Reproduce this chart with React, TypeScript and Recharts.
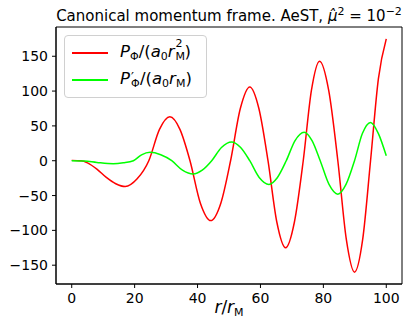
import React from "react";
import { LineChart, Line, XAxis, YAxis, Legend, ReferenceArea } from "recharts";

// P_Phi / (a0 rM^2)  (red)
const pPhiR = [0, 3, 5, 8, 11, 14, 17, 20.8, 24.5, 27.9, 31.2, 34.4, 37.6, 40.9, 44.2, 47.4, 50.5, 53.6, 56.6, 59.5, 62.4, 65.2, 68, 70.8, 73.6, 76.2, 78.8, 81.7, 84.6, 87.3, 89.9, 92.5, 95, 97.5, 100];
const pPhiVal = [0.5, 0, -3, -12, -24, -33, -37, -26, 0, 45, 63, 45, 0, -61, -86, -61, 0, 75, 106, 75, 0, -88, -125, -88, 0, 101, 143, 101, 0, -113, -160, -113, 0, 118, 175];

// P'_Phi / (a0 rM)  (green)
const dPhiR = [0, 4, 8, 13.2, 16.4, 19.6, 22.2, 24.9, 28.3, 31.8, 35.2, 38.6, 41.5, 44.5, 47.6, 50.8, 53.7, 56.6, 59.6, 62.7, 65.4, 68.2, 71, 73.9, 76.4, 79, 81.8, 84.6, 87.2, 89.9, 92.4, 95, 97.5, 100];
const dPhiVal = [0, -0.5, -2.5, -4.3, -3, 0, 8.5, 12, 8.5, 0, -13.5, -19, -13.5, 0, 19, 27, 19, 0, -24, -34, -24, 0, 29, 41, 29, 0, -34, -48, -34, 0, 39, 55, 39, 7];

const xTicks = [0, 20, 40, 60, 80, 100];
const yTicks = [-150, -100, -50, 0, 50, 100, 150];
const xDomain = [-5, 105];
const yDomain = [-177, 192];

const redData = pPhiR.map((r, i) => ({ r, v: pPhiVal[i] }));
const greenData = dPhiR.map((r, i) => ({ r, v: dPhiVal[i] }));

const font = "DejaVu Sans";
const fmt = (v: number) => (v < 0 ? "\u2212" + Math.abs(v) : String(v));

// superscript and subscript stacked on one base letter
const Stack = ({ sup, sub, supSize = 11, supTop = -7 }: { sup: string; sub: string; supSize?: number; supTop?: number }) => (
  <span style={{ display: "inline-block", width: 10, position: "relative", height: 12, verticalAlign: "baseline" }}>
    <span style={{ position: "absolute", left: 1, top: supTop, fontSize: supSize, lineHeight: "11px", fontStyle: "normal" }}>{sup}</span>
    <span style={{ position: "absolute", left: 1, top: 6, fontSize: 11, lineHeight: "11px", fontStyle: "normal" }}>{sub}</span>
  </span>
);

const Sub = ({ children }: { children: React.ReactNode }) => (
  <span style={{ fontSize: 11, fontStyle: "normal", position: "relative", top: 3 }}>{children}</span>
);

const LegendBox = () => (
  <div
    style={{
      width: 141,
      height: 61,
      border: "1px solid #d0d0d0",
      borderRadius: 4,
      background: "rgba(255,255,255,0.8)",
      position: "relative",
      fontFamily: font,
      fontSize: 16.5,
      color: "#000",
    }}
  >
    <div style={{ position: "absolute", left: 7, top: 16, width: 36, height: 1.5, background: "#ff0000" }} />
    <div style={{ position: "absolute", left: 55, top: 6, lineHeight: "20px", whiteSpace: "nowrap" }}>
      <i>P</i>
      <Sub>Φ</Sub>/(<i>a</i>
      <Sub>0</Sub>
      <i>r</i>
      <Stack sup="2" sub="M" />)
    </div>
    <div style={{ position: "absolute", left: 7, top: 43, width: 36, height: 1.5, background: "#00ff00" }} />
    <div style={{ position: "absolute", left: 55, top: 33, lineHeight: "20px", whiteSpace: "nowrap" }}>
      <i>P</i>
      <Stack sup={"\u2032"} sub="Φ" supSize={13} supTop={-1} />/(<i>a</i>
      <Sub>0</Sub>
      <i>r</i>
      <Sub>M</Sub>)
    </div>
  </div>
);

export default function App() {
  return (
    <div style={{ position: "absolute", left: 0, top: 0, width: 413, height: 334, background: "#fff", fontFamily: font }}>
      <div
        style={{
          position: "absolute",
          top: 8,
          left: 0,
          width: 458,
          textAlign: "center",
          fontSize: 15,
          lineHeight: "17px",
          whiteSpace: "nowrap",
          color: "#000",
        }}
      >
        Canonical momentum frame. AeST, <i>μ̂</i>
        <span style={{ fontSize: 11, position: "relative", top: -6 }}>2</span> = 10
        <span style={{ fontSize: 11, position: "relative", top: -6 }}>{"\u2212"}2</span>
      </div>
      <LineChart width={413} height={334} margin={{ top: 27, right: 11, bottom: 0, left: 0 }}>
        <ReferenceArea
          x1={xDomain[0]}
          x2={xDomain[1]}
          y1={yDomain[0]}
          y2={yDomain[1]}
          fill="none"
          stroke="#000"
          strokeWidth={1}
          fillOpacity={0}
        />
        <XAxis
          type="number"
          dataKey="r"
          domain={xDomain}
          ticks={xTicks}
          allowDataOverflow
          height={50}
          stroke="#000"
          tickSize={4}
          tickMargin={5}
          tickFormatter={fmt}
          tick={{ fill: "#000", fontSize: 14, fontFamily: font }}
        />
        <YAxis
          type="number"
          domain={yDomain}
          ticks={yTicks}
          allowDataOverflow
          width={56}
          stroke="#000"
          tickSize={4}
          tickMargin={4}
          tickFormatter={fmt}
          tick={{ fill: "#000", fontSize: 14, fontFamily: font }}
        />
        <Line data={redData} dataKey="v" type="monotone" stroke="#ff0000" strokeWidth={1.5} dot={false} isAnimationActive={false} />
        <Line data={greenData} dataKey="v" type="monotone" stroke="#00ff00" strokeWidth={1.5} dot={false} isAnimationActive={false} />
        <Legend
          layout="vertical"
          align="center"
          verticalAlign="middle"
          content={() => <LegendBox />}
          wrapperStyle={{ position: "absolute", left: 64, top: 35, width: "auto", height: "auto" }}
        />
      </LineChart>
      <div
        style={{
          position: "absolute",
          top: 298,
          left: 0,
          width: 458,
          textAlign: "center",
          fontSize: 17,
          lineHeight: "19px",
          whiteSpace: "nowrap",
          color: "#000",
        }}
      >
        <i>r</i>/<i>r</i>
        <Sub>M</Sub>
      </div>
    </div>
  );
}
